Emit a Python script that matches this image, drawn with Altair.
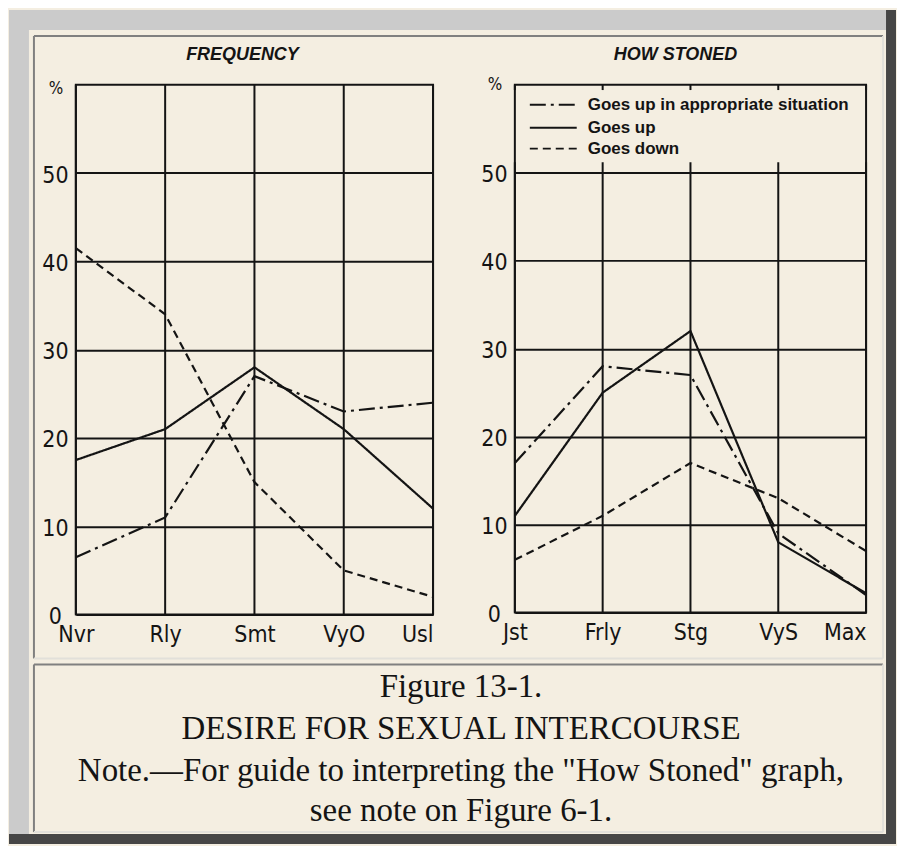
import altair as alt
import pandas as pd

# ---------------- data ----------------
freq_categories = ["Nvr", "Rly", "Smt", "VyO", "Usl"]
stoned_categories = ["Jst", "Frly", "Stg", "VyS", "Max"]
series_names = ["Goes up in appropriate situation", "Goes up", "Goes down"]
series_dashes = [[16, 5, 3, 5], [1, 0], [8, 5]]

freq_appropriate = [6.5, 11, 27, 23, 24]
freq_up = [17.5, 21, 28, 21, 12]
freq_down = [41.5, 34, 15, 5, 2]

stoned_appropriate = [17, 28, 27, 9, 2]
stoned_up = [11, 25, 32, 8, 2.2]
stoned_down = [6, 11, 17, 13, 7]

y_ticks = [0, 10, 20, 30, 40, 50]
panel_titles = ["FREQUENCY", "HOW STONED"]
caption_lines = [
    "Figure 13-1.",
    "DESIRE FOR SEXUAL INTERCOURSE",
    'Note.\u2014For guide to interpreting the "How Stoned" graph,',
    "see note on Figure 6-1.",
]

# ---------------- style ----------------
BG = "#f4eee1"
INK = "#141414"
GRAY = "#cbcbcb"
DARK = "#464646"
LINE_DARK = "#808080"
LINE_LIGHT = "#e2e0da"
SANS_N = "Liberation Sans Narrow, DejaVu Sans Condensed, Arial Narrow, sans-serif"
SANS = "Liberation Sans, Arial, sans-serif"
SERIF = "Liberation Serif, Times New Roman, serif"

ONE = alt.Data(values=[{}])


def long_df(cats, vals_list):
    rows = []
    for name, vals in zip(series_names, vals_list):
        for c, v in zip(cats, vals):
            rows.append({"cat": c, "pct": v, "series": name})
    return pd.DataFrame(rows)


def rect(x1, x2, y1, y2, color):
    return alt.Chart(ONE).mark_rect(color=color, opacity=1).encode(
        x=alt.value(x1), x2=alt.value(x2), y=alt.value(y1), y2=alt.value(y2)
    )


def hline(x1, x2, y, color, w=2):
    return alt.Chart(ONE).mark_rule(color=color, strokeWidth=w).encode(
        x=alt.value(x1), x2=alt.value(x2), y=alt.value(y)
    )


def vline(x, y1, y2, color, w=2):
    return alt.Chart(ONE).mark_rule(color=color, strokeWidth=w).encode(
        x=alt.value(x), y=alt.value(y1), y2=alt.value(y2)
    )


def text(x, y, s, font, size, **kw):
    return alt.Chart(ONE).mark_text(font=font, fontSize=size, color=INK, **kw).encode(
        x=alt.value(x), y=alt.value(y), text=alt.value(s)
    )


def panel(cats, vals_list, title, title_x, width, height, grid_top, stubs, last_label):
    df = long_df(cats, vals_list)
    xenc = alt.X(
        "cat:N",
        sort=cats,
        scale=alt.Scale(type="point", domain=cats, padding=0),
        axis=alt.Axis(
            title=None, labelAngle=0, labelFont=SANS_N, labelFontSize=23,
            labelColor=INK, labelPadding=9, ticks=False, tickSize=0,
            domain=False, grid=False, labelBaseline="top",
            labelAlign=alt.ExprRef(expr=f"datum.value == '{last_label}' ? 'right' : 'center'"),
        ),
    )
    yenc = alt.Y(
        "pct:Q",
        scale=alt.Scale(domain=[0, 60], nice=False, zero=False),
        axis=alt.Axis(
            title=None, values=y_ticks, labelFont=SANS_N, labelFontSize=23,
            labelColor=INK, labelPadding=21, labelAlign="center", ticks=False, tickSize=0,
            domain=False, grid=True, gridColor=INK, gridWidth=2, gridOpacity=1,
            labelOffset=2,
        ),
    )
    grid_df = pd.DataFrame({"cat": cats})
    vgrid = alt.Chart(grid_df).mark_rule(color=INK, strokeWidth=2).encode(
        x=xenc, y=alt.datum(0), y2=alt.datum(grid_top)
    )
    layers = [vgrid]
    if stubs:
        layers.append(
            alt.Chart(grid_df).mark_rule(color=INK, strokeWidth=2).encode(
                x=xenc, y=alt.datum(60), y2=alt.datum(59.4)
            )
        )
    lines = alt.Chart(df).mark_line(color=INK, strokeWidth=2.2).encode(
        x=xenc,
        y=yenc,
        strokeDash=alt.StrokeDash(
            "series:N", scale=alt.Scale(domain=series_names, range=series_dashes), legend=None
        ),
        detail="series:N",
    )
    layers.append(lines)
    layers.append(
        text(title_x, -30, title, SANS, 18, align="center", baseline="middle",
             fontStyle="italic", fontWeight="bold")
    )
    return layers, dict(width=width, height=height)


# ---------- left panel (also carries the page frame and caption) ----------
# panel origin sits at page (75, 83); the frame spans page x 8..897, y 8..844
l_layers, l_props = panel(
    freq_categories, [freq_appropriate, freq_up, freq_down], panel_titles[0],
    167, 358, 531, 60, False, "Usl",
)
frame = [
    rect(-67, 814, -75, -55, GRAY),
    rect(-67, -47, -75, 761, GRAY),
    rect(812, 822, -75, 761, DARK),
    rect(-67, 822, 751, 761, DARK),
    hline(-42, 809, -49, LINE_DARK),
    vline(-42, -49, 575, LINE_DARK),
    hline(-42, 809, 575, LINE_LIGHT),
    vline(809, -49, 575, LINE_LIGHT),
    hline(-42, 809, 581, LINE_DARK),
    vline(-42, 581, 749, LINE_DARK),
    hline(-42, 809, 749, LINE_LIGHT),
    vline(809, 581, 749, LINE_LIGHT),
]
caption_y = [614, 656, 698, 738]
caption = [
    text(386, yy, s, SERIF, 33, align="center", baseline="alphabetic")
    for yy, s in zip(caption_y, caption_lines)
]
left = alt.layer(
    *frame, *l_layers,
    text(-20, 4, "%", SANS_N, 17, align="center", baseline="middle"),
    *caption,
).properties(**l_props)

# ---------- right panel ----------
r_layers, r_props = panel(
    stoned_categories, [stoned_appropriate, stoned_up, stoned_down], panel_titles[1],
    161, 352, 529, 51.2, True, "Max",
)
legend_y = [20, 43, 64]
legend = []
for yy, name, dash in zip(legend_y, series_names, series_dashes):
    legend.append(
        alt.Chart(ONE).mark_rule(color=INK, strokeWidth=2, strokeDash=dash).encode(
            x=alt.value(15), x2=alt.value(62), y=alt.value(yy)
        )
    )
    legend.append(
        text(73, yy, name, SANS, 17, align="left", baseline="middle", fontWeight="bold")
    )
right = alt.layer(
    *r_layers, *legend,
    text(-20, 0, "%", SANS_N, 17, align="center", baseline="middle"),
).properties(**r_props)

chart = (
    alt.hconcat(left, right, spacing=82, bounds="flush")
    .properties(padding=0)
    .configure(background=BG)
    .configure_view(stroke=INK, strokeWidth=2)
)

chart.save("out.html", embed_options={"renderer": "svg", "actions": False})
